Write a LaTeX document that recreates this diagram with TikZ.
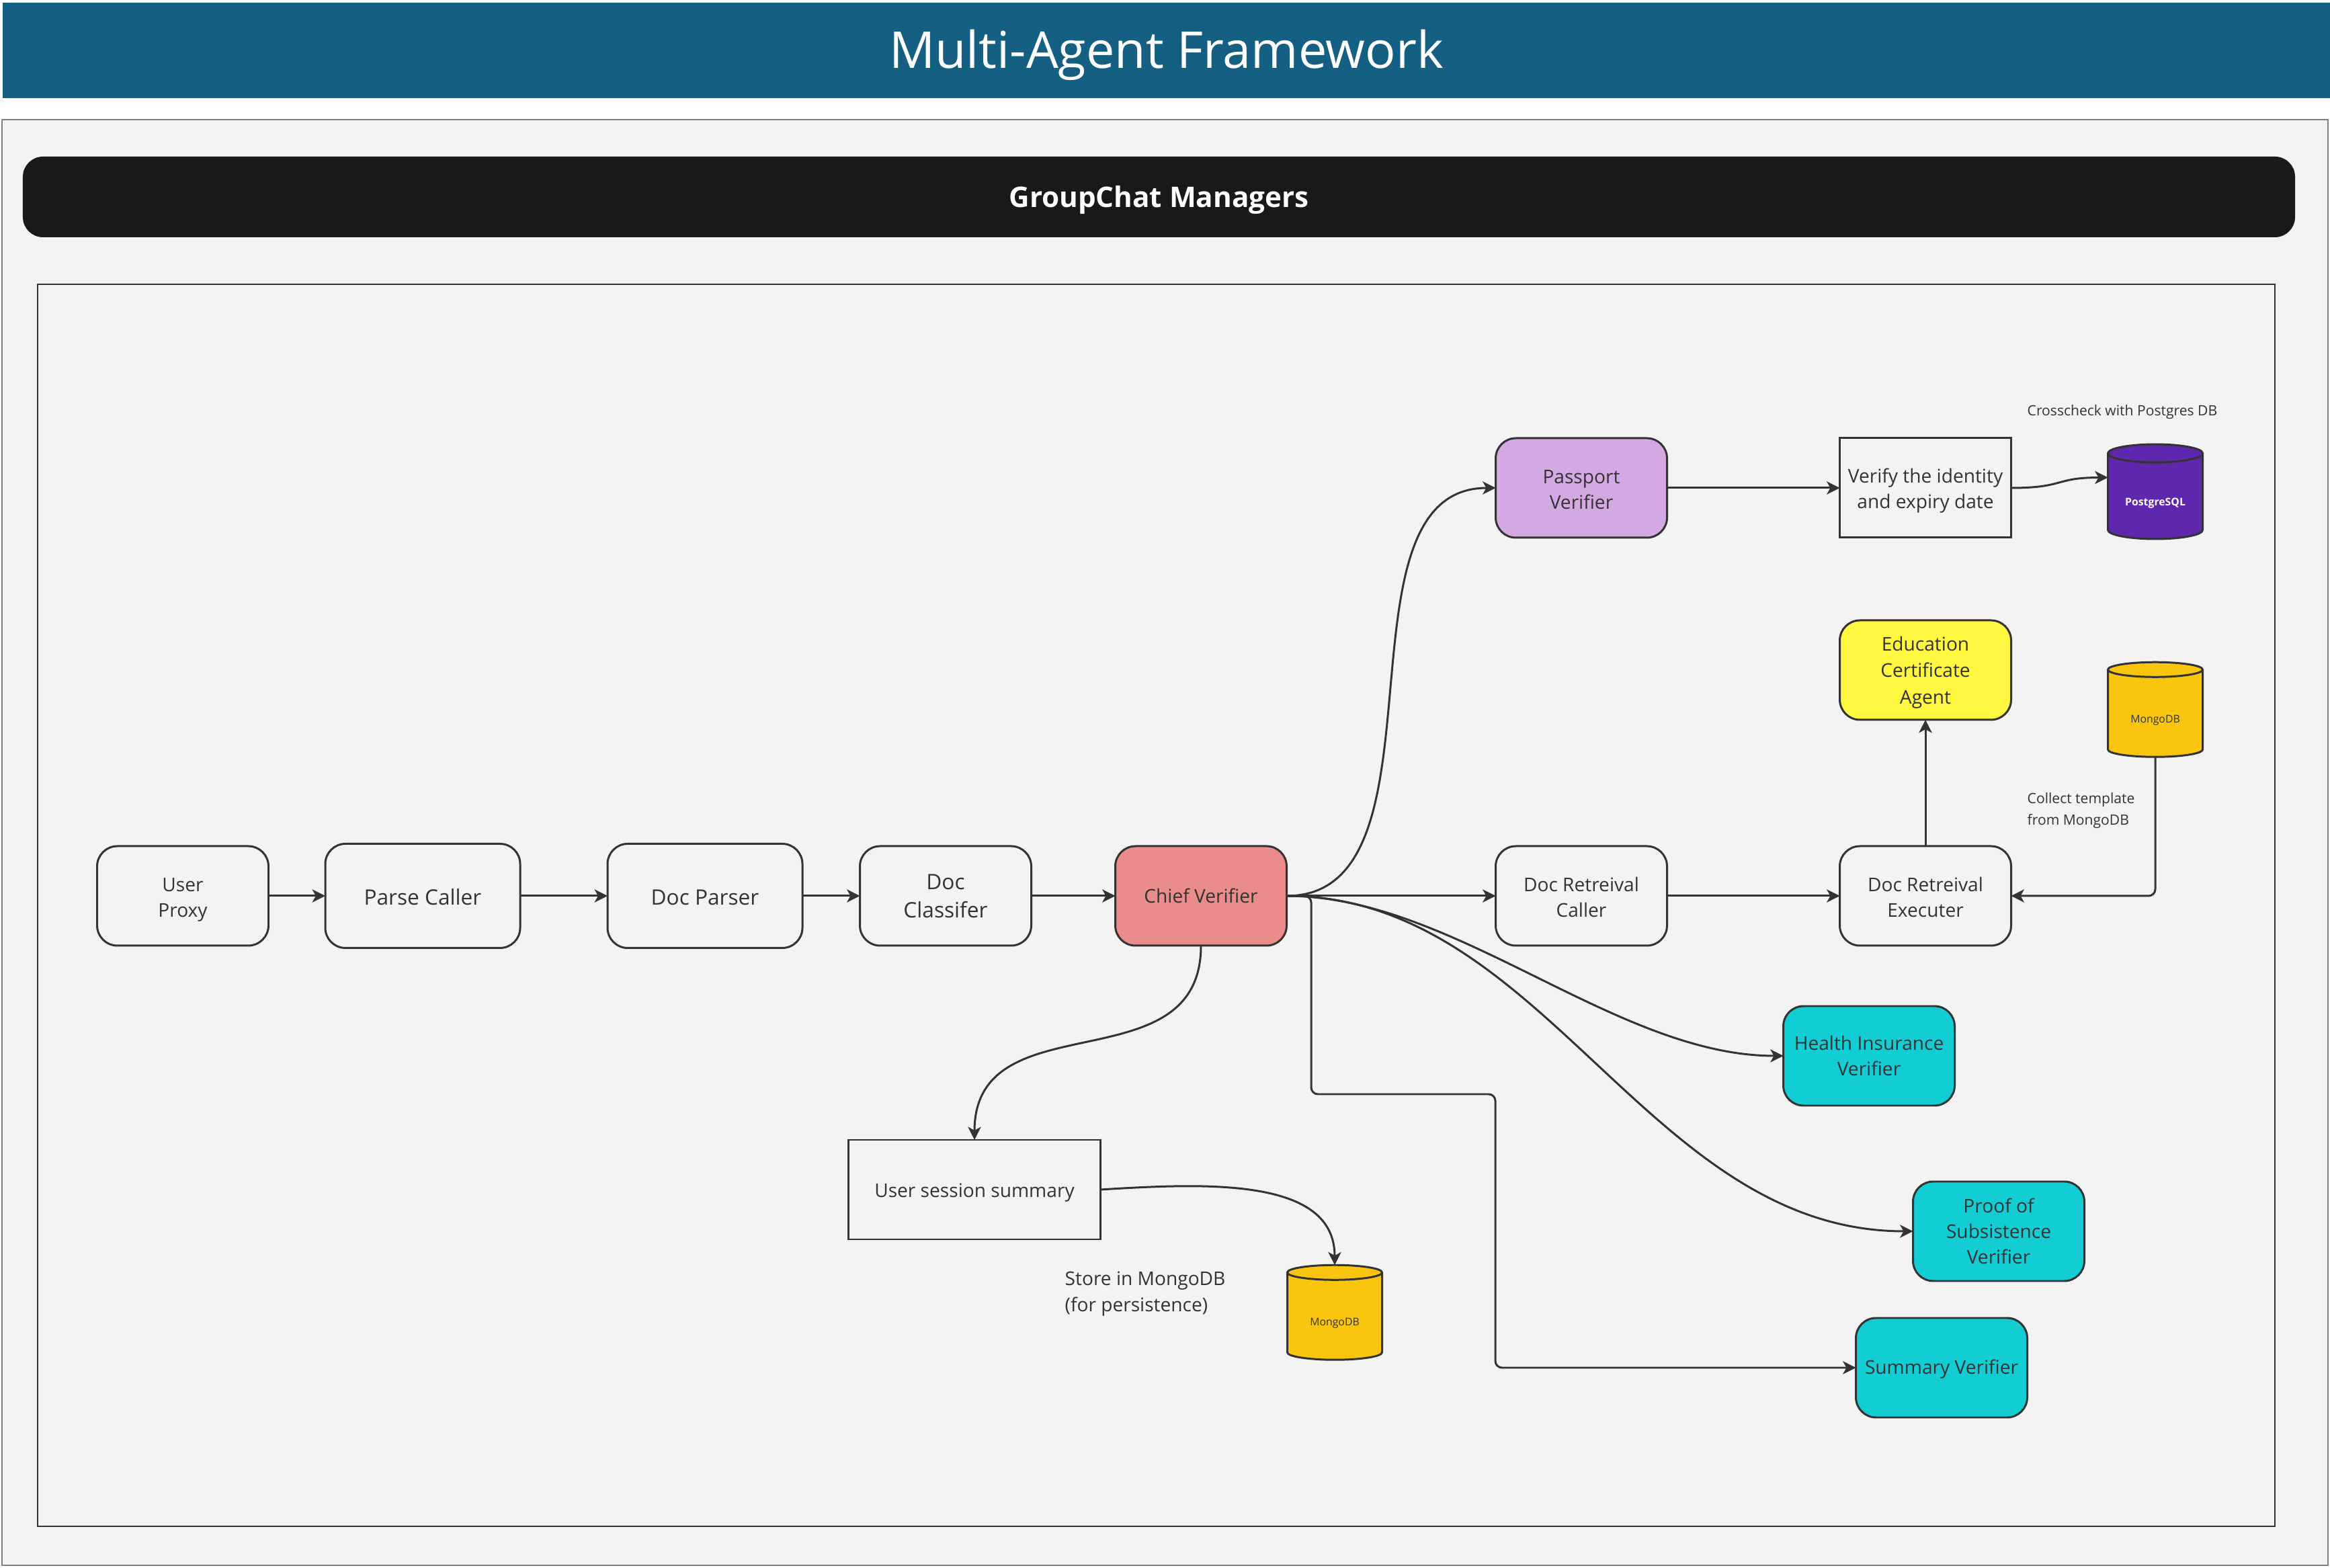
\documentclass[tikz,border=0pt]{standalone}
\usepackage{fontspec}
\setmainfont{Open Sans}
\usepackage{xcolor}
\usetikzlibrary{shapes.geometric,positioning,arrows.meta}

\definecolor{bannerblue}{HTML}{156082}
\definecolor{panelgrey}{HTML}{F3F3F3}
\definecolor{inkgrey}{HTML}{333333}
\definecolor{chiefred}{HTML}{EA8B8C}
\definecolor{passportpurple}{HTML}{D4A9E3}
\definecolor{agentyellow}{HTML}{FFF740}
\definecolor{verifierteal}{HTML}{12CDD4}
\definecolor{mongoyellow}{HTML}{FAC50E}
\definecolor{postgrespurple}{HTML}{5F26AE}

\begin{document}
\begin{tikzpicture}[
    >={Stealth[length=5.5pt,width=5.5pt,inset=1.5pt]},
    agent/.style={draw=inkgrey, line width=0.85pt, rectangle, rounded corners=0.3cm, text=inkgrey,
        minimum width=2.55cm, minimum height=1.48cm, inner sep=0pt, outer sep=0pt, align=center,
        font=\fontsize{8}{10.8}\selectfont},
    wide/.style={agent, minimum width=2.9cm, minimum height=1.55cm, text height=7.6pt, font=\fontsize{9}{11}\selectfont},
    task/.style={agent, rounded corners=0pt},
    store/.style={draw=inkgrey, line width=0.85pt, cylinder, shape border rotate=90, shape aspect=0.3,
        minimum width=1.41cm, minimum height=1.41cm, inner sep=0pt, outer sep=0pt, text height=8.5pt,
        font=\fontsize{4.5}{5}\selectfont},
    note/.style={anchor=west, align=left, inner sep=0pt, text=inkgrey},
    link/.style={->, draw=inkgrey, line width=0.85pt}
]
    \useasboundingbox (0,0) rectangle (34.67,23.32);

    % Frames
    \draw[draw=gray, fill=panelgrey, line width=0.7pt] (0.03,0.03) rectangle (34.64,21.54);
    \draw[draw=inkgrey, line width=0.7pt] (0.56,0.61) rectangle (33.85,19.09);

    % Headers
    \node[fill=bannerblue, text=white, minimum width=34.63cm, minimum height=1.42cm, inner sep=0pt,
        text height=20pt, font=\fontsize{21.5}{24}\selectfont] (banner) at (17.355,22.57) {Multi-Agent Framework};
    \node[fill=black!90, rounded corners=0.3cm, text=white, minimum width=33.81cm, minimum height=1.2cm,
        inner sep=0pt, text height=12pt, font=\fontsize{12}{14}\selectfont\bfseries] (managers) at (17.245,20.39) {GroupChat Managers};

    % Main row
    \node[agent, text height=19.6pt] (user) at (2.72,9.99) {User\\Proxy};
    \node[wide] (parse) at (6.29,9.99) {Parse Caller};
    \node[wide] (parser) at (10.49,9.99) {Doc Parser};
    \node[agent, font=\fontsize{9}{12}\selectfont] (classifier) at (14.07,9.99) {Doc\\Classifer};
    \node[agent, fill=chiefred] (chief) at (17.87,9.99) {Chief Verifier};
    \node[agent, text height=18.2pt] (caller) at (23.53,9.99) {Doc Retreival\\Caller};
    \node[agent, text height=18.2pt] (executer) at (28.65,9.99) {Doc Retreival\\Executer};

    % Upper branch
    \node[agent, fill=passportpurple, text height=18pt] (passport) at (23.53,16.06) {Passport\\Verifier};
    \node[task, text height=19.3pt] (identity) at (28.65,16.06) {Verify the identity\\and expiry date};
    \node[store, fill=postgrespurple, text=white] (postgres) at (32.07,15.93) {\textbf{PostgreSQL}};
    \node[agent, fill=agentyellow, text height=30.5pt, font=\fontsize{8}{11.2}\selectfont] (education) at (28.65,13.35) {Education\\Certificate\\Agent};
    \node[store, fill=mongoyellow, text=inkgrey] (mongotemplate) at (32.07,12.70) {MongoDB};

    % Lower branch
    \node[agent, fill=verifierteal] (health) at (27.81,7.61) {Health Insurance\\Verifier};
    \node[agent, fill=verifierteal] (proof) at (29.74,5.00) {Proof of\\Subsistence\\Verifier};
    \node[agent, fill=verifierteal, text height=7.4pt] (summary) at (28.89,2.97) {Summary Verifier};
    \node[task, minimum width=3.75cm, text height=8.2pt] (session) at (14.50,5.62) {User session summary};
    \node[store, fill=mongoyellow, text=inkgrey] (mongosession) at (19.86,3.73) {MongoDB};

    % Notes
    \node[note, font=\fontsize{6}{7}\selectfont] (crosscheck) at (30.16,17.19) {Crosscheck with Postgres DB};
    \node[note, font=\fontsize{6}{8.9}\selectfont] (collect) at (30.16,11.26) {Collect template\\from MongoDB};
    \node[note, font=\fontsize{8}{11.2}\selectfont] (persist) at (15.84,4.07) {Store in MongoDB\\(for persistence)};

    % Bends
    \coordinate (bendA) at (19.51,7.04);
    \coordinate (bendB) at (22.25,7.04);

    % Connectors
    \draw[link] (user) -- (parse);
    \draw[link] (parse) -- (parser);
    \draw[link] (parser) -- (classifier);
    \draw[link] (classifier) -- (chief);
    \draw[link] (chief) -- (caller);
    \draw[link] (caller) -- (executer);
    \draw[link] (executer) -- (education);
    \draw[link] (passport) -- (identity);
    \draw[link, rounded corners=0.1cm] (mongotemplate.south) |- (executer.east);
    \draw[link] (identity.east) .. controls +(0.8,0) and +(-0.8,0) .. (postgres.158);
    \draw[link] (chief.east) .. controls +(2.5,0) and +(-2.5,0) .. (passport.west);
    \draw[link] (chief.east) .. controls +(2.5,0) and +(-2.5,0) .. (health.west);
    \draw[link] (chief.east) .. controls +(3.85,0) and +(-3.96,0) .. (proof.west);
    \draw[link, rounded corners=0.1cm] (chief.east) -| (bendA) -- (bendB) |- (summary.west);
    \draw[link] (chief.south) .. controls +(0,-2.1) and +(0,2.1) .. (session.north);
    \draw[link] (session.east) .. controls +(1.6,0.1) and +(0,1.3) .. (mongosession.north);
\end{tikzpicture}
\end{document}
